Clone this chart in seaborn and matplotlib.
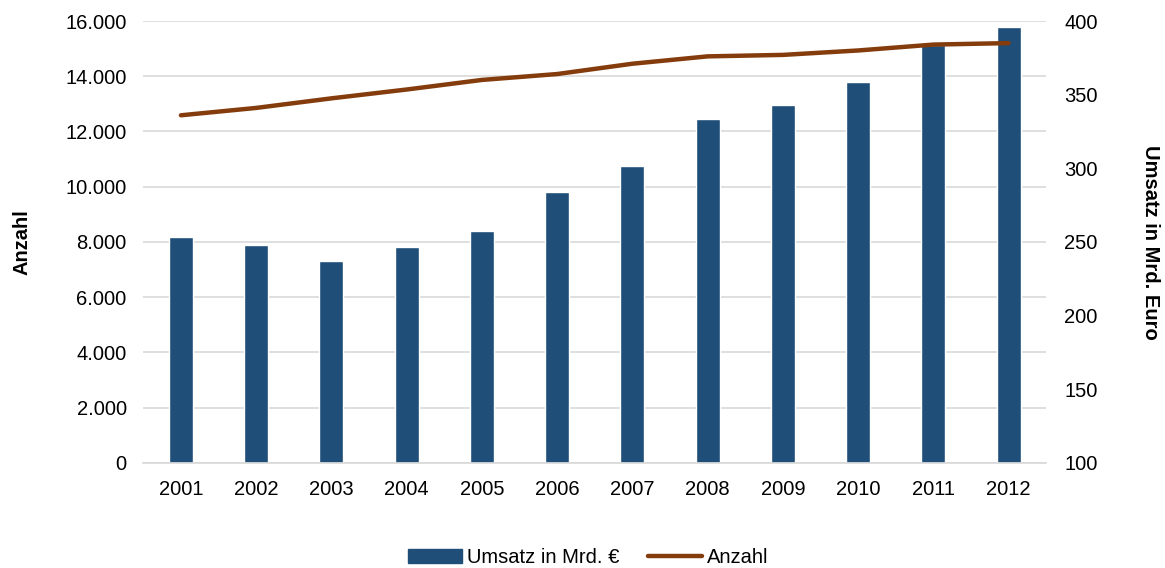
import numpy as np
import pandas as pd
import matplotlib
matplotlib.use("Agg")
import matplotlib.pyplot as plt
import seaborn as sns
from matplotlib.patches import Patch
from matplotlib.lines import Line2D
from matplotlib.ticker import FuncFormatter

# data
jahre = ["2001", "2002", "2003", "2004", "2005", "2006",
         "2007", "2008", "2009", "2010", "2011", "2012"]
umsatz = [8180, 7890, 7310, 7820, 8400, 9810,
          10750, 12450, 12960, 13790, 15130, 15780]
anzahl = [336, 341, 347.5, 353.5, 360, 364,
          371, 376, 377, 380, 384, 385]

bar_color = "#1F4E79"
line_color = "#843C0C"
fs = 14.5

df = pd.DataFrame({"Jahr": jahre, "Umsatz": umsatz, "Anzahl": anzahl})

sns.set_theme(style="white")
plt.rcParams["font.family"] = ["Liberation Sans", "DejaVu Sans"]
plt.rcParams["text.color"] = "black"
plt.rcParams["axes.labelcolor"] = "black"

fig = plt.figure(figsize=(11.65, 5.68), dpi=100)
ax = fig.add_axes([0.123, 0.185, 0.775, 0.778])

sns.barplot(data=df, x="Jahr", y="Umsatz", color=bar_color, width=0.32,
            saturation=1, ax=ax, zorder=2)
ax.set_ylim(0, 16000)
ax.set_yticks(np.arange(0, 16001, 2000))
ax.yaxis.set_major_formatter(FuncFormatter(lambda v, p: f"{int(v):,}".replace(",", ".")))
ax.grid(axis="y", color="#D9D9D9", linewidth=1.2, zorder=0)
ax.set_axisbelow(True)
ax.set_xlim(-0.5, len(jahre) - 0.5)
ax.set_xlabel("")
ax.set_ylabel("Anzahl", fontsize=fs, fontweight="bold", labelpad=24)
ax.tick_params(axis="both", labelsize=fs, length=0, colors="black")
ax.tick_params(axis="x", pad=12)
ax.tick_params(axis="y", pad=12)
for s in ax.spines.values():
    s.set_visible(False)
ax.spines["bottom"].set_visible(True)
ax.spines["bottom"].set_color("#D9D9D9")

ax2 = ax.twinx()
sns.lineplot(x=np.arange(len(jahre)), y=df["Anzahl"], color=line_color,
             linewidth=3.2, ax=ax2, solid_capstyle="round")
ax2.set_ylim(100, 400)
ax2.set_yticks(np.arange(100, 401, 50))
ax2.set_ylabel("Umsatz in Mrd. Euro", fontsize=fs, fontweight="bold",
               rotation=270, labelpad=45)
ax2.tick_params(axis="y", labelsize=fs, length=0, pad=13, colors="black")
for s in ax2.spines.values():
    s.set_visible(False)
ax2.set_xlim(-0.5, len(jahre) - 0.5)

handles = [Patch(facecolor=bar_color, edgecolor=bar_color),
           Line2D([0], [0], color=line_color, linewidth=3.2, solid_capstyle="round")]
fig.legend(handles, ["Umsatz in Mrd. €", "Anzahl"], loc="lower center",
           bbox_to_anchor=(0.505, -0.03), ncol=2, frameon=False, fontsize=fs,
           handlelength=2.7, handletextpad=0.25, columnspacing=1.4)

fig.savefig("out.png", dpi=100)
